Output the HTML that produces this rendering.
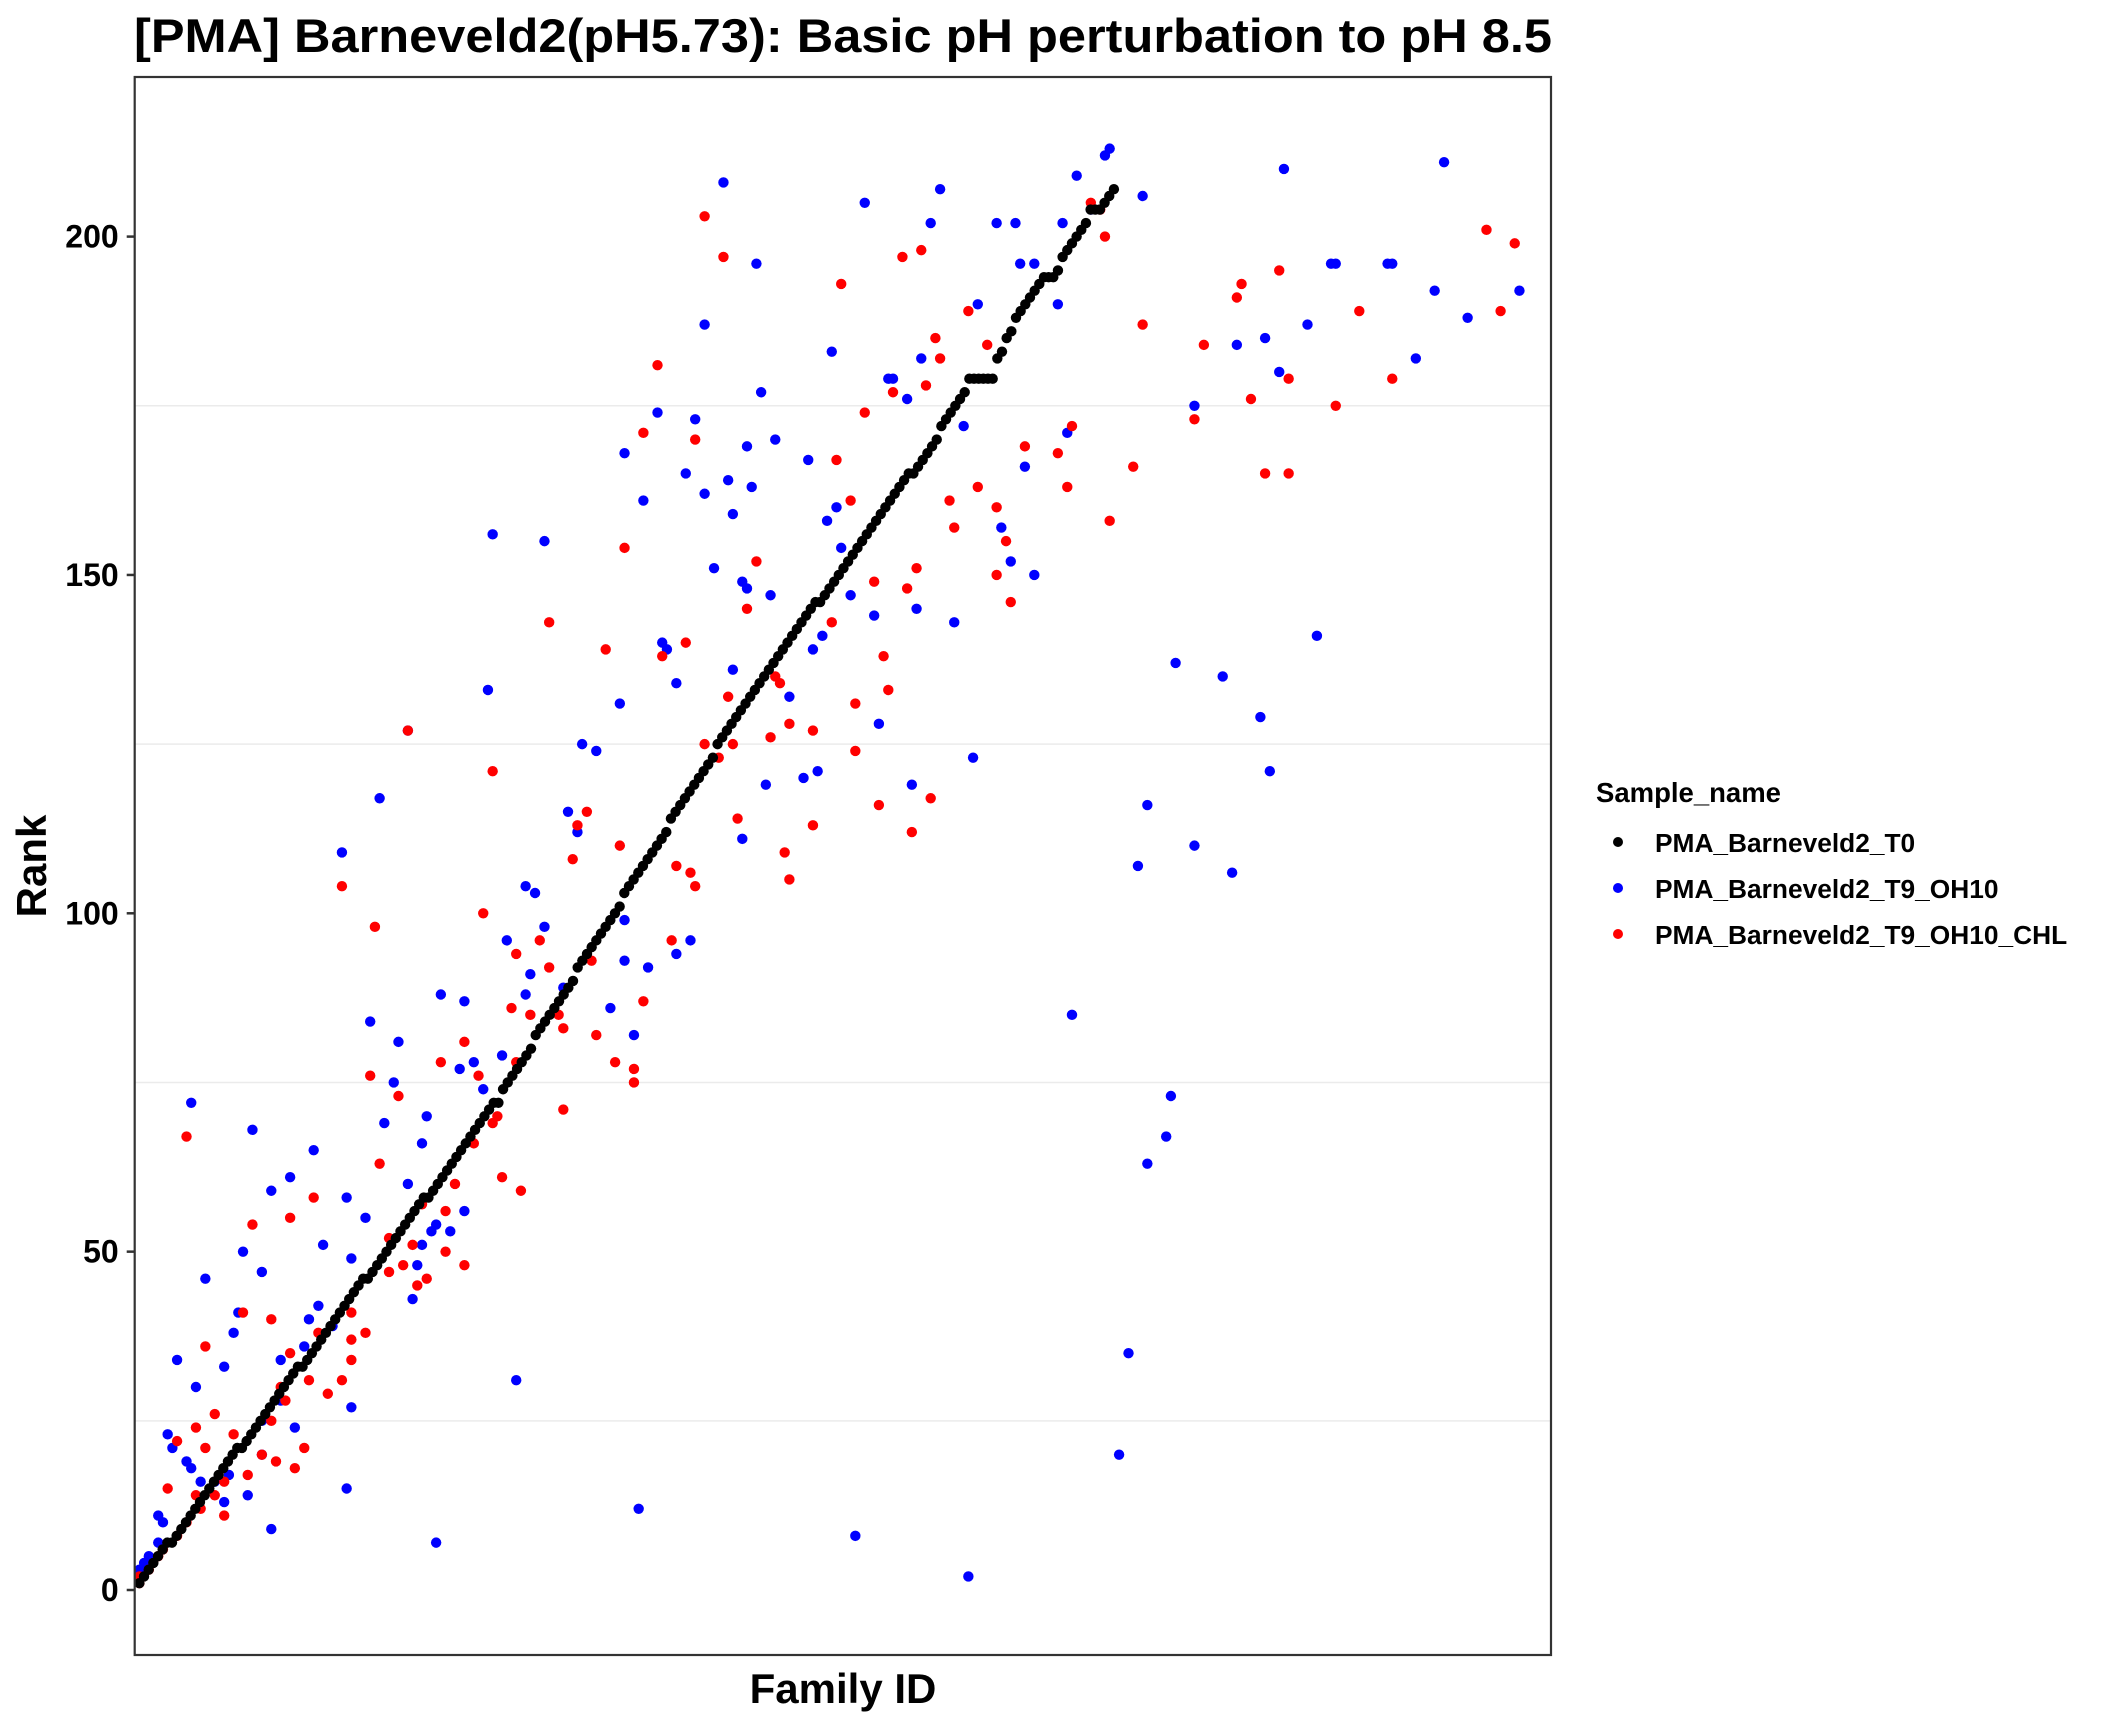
<!DOCTYPE html>
<html><head><meta charset="utf-8"><style>
body{margin:0;background:#fff;}
svg{display:block;font-family:"Liberation Sans",Arial,sans-serif;}
</style></head><body>
<svg id="chart" width="2112" height="1728" viewBox="0 0 2112 1728" xmlns="http://www.w3.org/2000/svg">
<rect x="0" y="0" width="2112" height="1728" fill="#fff"/>
<text x="134" y="52" font-size="47" font-weight="bold" textLength="1418" lengthAdjust="spacingAndGlyphs">[PMA] Barneveld2(pH5.73): Basic pH perturbation to pH 8.5</text>
<g id="grid"></g>
<g id="marks"></g>
<rect x="134.7" y="77" width="1416.3" height="1578" fill="none" stroke="#333" stroke-width="2.2"/>
<g id="yaxis"></g>
<text transform="translate(46,866) rotate(-90)" text-anchor="middle" font-size="42" font-weight="bold">Rank</text>
<text x="843" y="1703" text-anchor="middle" font-size="42" font-weight="bold">Family ID</text>
<g>
<text x="1596" y="802" font-size="27.5" font-weight="bold">Sample_name</text>
<g><circle cx="1618" cy="842" r="5" fill="#000"/><text x="1655" y="852" font-size="26.3" font-weight="bold">PMA_Barneveld2_T0</text></g>
<g><circle cx="1618" cy="888" r="5" fill="#0000ff"/><text x="1655" y="898" font-size="26.3" font-weight="bold">PMA_Barneveld2_T9_OH10</text></g>
<g><circle cx="1618" cy="934" r="5" fill="#ff0000"/><text x="1655" y="944" font-size="26.3" font-weight="bold">PMA_Barneveld2_T9_OH10_CHL</text></g>
</g>
</svg>
<script>
const yTicks = [0, 50, 100, 150, 200];
const yMinor = [25, 75, 125, 175];
const t0Rank = [1,2,3,4,5,6,7,7,8,9,10,11,12,13,14,15,16,17,18,19,20,21,21,22,23,24,25,26,27,28,29,30,31,32,33,33,34,35,36,37,38,39,40,41,42,43,44,45,46,46,47,48,49,50,51,52,53,54,55,56,57,58,58,59,60,61,62,63,64,65,66,67,68,69,70,71,72,72,74,75,76,77,78,79,80,82,83,84,85,86,87,88,89,90,92,93,94,95,96,97,98,99,100,101,103,104,105,106,107,108,109,110,111,112,114,115,116,117,118,119,120,121,122,123,125,126,127,128,129,130,131,132,133,134,135,136,137,138,139,140,141,142,143,144,145,146,146,147,148,149,150,151,152,153,154,155,156,157,158,159,160,161,162,163,164,165,165,166,167,168,169,170,172,173,174,175,176,177,179,179,179,179,179,179,182,183,185,186,188,189,190,191,192,193,194,194,194,195,197,198,199,200,201,202,204,204,204,205,206,207];
const blueFamily = [207,206,200,214,278,244,125,171,155,169,183,187,197,203,132,188,191,254,255,266,267,276,294,283,249,240,234,121,179,196,148,272,167,161,160,164,243,225,133,111,119,136,143,130,104,117,121,126,131,108,127,149,147,176,189,198,184,186,191,174,76,87,123,150,129,130,135,152,157,166,146,144,112,113,127,115,139,103,75,158,58,95,98,145,142,178,165,134,129,52,215,92,94,225,44,213,233,83,85,79,87,104,84,109,104,115,83,91,101,106,118,50,65,70,199,56,72,69,78,55,74,62,53,61,58,220,219,215,25,12,29,38,45,33,40,49,46,23,27,15,64,67,70,63,60,59,61,37,39,42,36,31,22,21,9,13,19,81,46,34,31,27,27,7,8,11,12,17,19,14,20,24,6,5,29,45,64,107,153,177,209,211,221,231,239,241,251,2,1,3,5];
const blueRank = [213,212,209,206,211,210,208,207,205,202,202,202,202,204,196,196,196,196,196,196,196,192,192,188,187,185,184,187,190,190,183,182,182,179,179,176,180,175,177,174,173,170,167,169,168,165,162,164,163,161,159,160,158,172,166,171,157,152,150,143,156,155,151,154,149,148,147,147,144,145,141,139,140,139,136,134,132,131,133,128,127,125,124,121,120,123,119,119,111,117,116,115,112,110,109,107,106,104,103,96,98,99,91,92,93,94,88,89,86,82,96,84,88,87,85,81,78,77,79,75,74,70,69,66,60,73,67,63,68,72,59,65,58,61,51,55,49,50,47,46,54,53,56,53,48,43,51,40,42,39,36,34,41,38,34,30,33,31,27,24,28,25,20,23,21,19,18,16,13,16,17,14,10,11,9,15,7,12,8,2,20,35,137,135,129,121,141,4,3,5,7];
const redFamily = [121,125,205,203,206,163,167,150,287,293,290,235,234,243,260,214,227,177,181,170,171,168,111,245,267,237,255,225,108,119,161,155,149,189,199,196,212,240,245,152,198,179,173,183,207,174,185,104,132,183,186,166,164,157,130,148,88,100,117,112,159,136,137,126,160,153,121,127,139,144,153,135,76,124,58,169,158,165,128,144,96,94,138,103,44,139,115,118,119,74,51,93,86,97,81,114,88,108,90,80,84,91,98,102,106,106,91,50,56,70,65,73,81,77,76,72,52,68,78,82,61,66,54,59,66,57,62,54,70,60,46,49,38,33,25,11,15,23,29,33,39,46,37,41,44,46,31,29,32,36,27,30,34,24,21,17,13,15,19,17,19,13,14,11,7,9,9,6,5,3,1,1];
const redRank = [203,197,204,205,200,197,198,193,201,199,189,193,191,195,189,187,184,189,184,185,182,178,181,179,179,176,175,173,171,170,177,174,167,169,172,168,166,165,165,161,163,163,161,160,158,157,155,154,152,150,146,151,148,149,145,143,143,139,140,138,138,135,134,132,133,131,125,125,128,127,124,126,121,123,127,117,116,112,114,113,115,113,109,110,104,105,107,106,104,100,98,108,96,93,94,96,92,87,85,86,85,83,82,78,77,75,71,76,73,81,78,76,78,70,69,66,63,60,61,59,57,56,52,51,50,48,46,47,48,45,41,38,58,55,54,67,36,41,40,35,38,37,31,29,31,34,30,25,28,21,20,19,18,17,23,26,24,21,16,14,11,14,12,10,15,22,8,6,5,3,2,1];

const NS = 'http://www.w3.org/2000/svg';
const PL = 134.7, PR = 1551, PT = 77, PB = 1655;
function xScale(f){ return PL + 4.71 * f; }
function yScale(r){ return 1590 - r * 6.767; }

const grid = document.getElementById('grid');
yMinor.forEach(v => {
  const l = document.createElementNS(NS, 'line');
  
  
  l.setAttribute('x1', PL); l.setAttribute('x2', PR);
  l.setAttribute('y1', yScale(v)); l.setAttribute('y2', yScale(v));
  l.setAttribute('stroke', '#ebebeb'); l.setAttribute('stroke-width', '1.5');
  grid.appendChild(l);
});

const yaxis = document.getElementById('yaxis');
yTicks.forEach(v => {
  const t = document.createElementNS(NS, 'line');
  
  
  t.setAttribute('x1', PL - 8); t.setAttribute('x2', PL);
  t.setAttribute('y1', yScale(v)); t.setAttribute('y2', yScale(v));
  t.setAttribute('stroke', '#333'); t.setAttribute('stroke-width', '2.5');
  yaxis.appendChild(t);
  const tx = document.createElementNS(NS, 'text');
  
  
  tx.setAttribute('x', PL - 16); tx.setAttribute('y', yScale(v) + 11);
  tx.setAttribute('text-anchor', 'end');
  tx.setAttribute('font-size', '32'); tx.setAttribute('font-weight', 'bold');
  tx.textContent = v;
  yaxis.appendChild(tx);
});

const marks = document.getElementById('marks');
function dot(f, r, color, name){
  const c = document.createElementNS(NS, 'circle');
  
  
  c.setAttribute('cx', xScale(f)); c.setAttribute('cy', yScale(r));
  c.setAttribute('r', 5.2); c.setAttribute('fill', color);
  marks.appendChild(c);
}
blueFamily.forEach((f, i) => dot(f, blueRank[i], '#0000ff', 'point-t9-oh10'));
redFamily.forEach((f, i) => dot(f, redRank[i], '#ff0000', 'point-t9-oh10-chl'));
t0Rank.forEach((r, i) => dot((i + 1) * 0.99, r, '#000000', 'point-t0'));
</script>
</body></html>
